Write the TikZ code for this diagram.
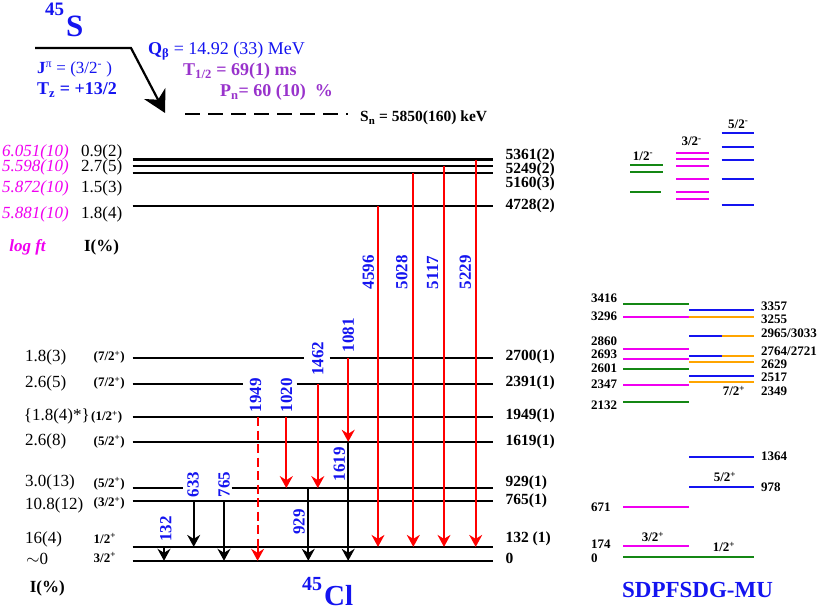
\documentclass[tikz,border=0pt]{standalone}
\usepackage{fontspec}
\setmainfont{Liberation Serif}
\usetikzlibrary{arrows.meta}
\definecolor{tblue}{RGB}{20,20,240}
\definecolor{tred}{RGB}{255,0,0}
\definecolor{tmag}{RGB}{240,0,240}
\definecolor{tpur}{RGB}{153,51,204}
\definecolor{tgreen}{RGB}{20,135,20}
\definecolor{torange}{RGB}{255,165,0}
\newcommand\fs[1]{\fontsize{#1}{#1}\selectfont}
\def\LA{159.6}\def\LB{166.4}\def\LC{173.1}\def\LD{206.3}
\def\LE{357.7}\def\LF{383.7}\def\LG{417.2}\def\LH{441.8}
\def\LI{488.1}\def\LJ{501}\def\LK{546.9}\def\LL{560.8}
\def\XL{132.5}\def\XR{493}
\tikzset{
  lev/.style={line width=2.2pt, black},
  gtip/.style={-{Stealth[length=12pt,width=13pt,inset=4pt]}},
  gr/.style={line width=1.8pt, tred, gtip},
  gb/.style={line width=1.8pt, black, gtip},
  glab/.style={rotate=90, text=tblue, font=\fs{17}\bfseries, inner sep=0pt},
  rlab/.style={anchor=west, font=\fs{15.5}\bfseries, inner sep=0pt},
  ival/.style={anchor=west, font=\fs{17}, inner sep=0pt},
  spin/.style={anchor=west, font=\fs{13}\bfseries, inner sep=0pt},
  lft/.style={anchor=west, font=\fs{17}\itshape, text=tmag, inner sep=0pt},
  th/.style={line width=2pt},
  thl/.style={font=\fs{13}\bfseries, inner sep=0pt},
  thw/.style={thl, anchor=west},
}
\begin{document}
\begin{tikzpicture}[x=1pt,y=-1pt]
\path[use as bounding box, fill=white] (0,0) rectangle (817,612);

% ---------- parent 45S ----------
\node[anchor=base west, inner sep=0pt, text=tblue, font=\fs{19}\bfseries] (pA) at (45,16) {45};
\node[anchor=base west, inner sep=0pt, text=tblue, font=\fs{31}\bfseries] (pS) at (66,37) {S};
\coordinate (pL) at (35,48);
\coordinate (pK) at (131,48);
\coordinate (pT) at (165,113);
\draw[line width=2.2pt, -{Stealth[length=22pt,width=24pt,inset=7pt]}] (pL) -- (pK) -- (pT);
\node[anchor=base west, inner sep=0pt, text=tblue, font=\fs{17}] (jpi) at (37,74)
  {\textbf{J}\textsuperscript{π} = (3/2\textsuperscript{-} )};
\node[anchor=base west, inner sep=0pt, text=tblue, font=\fs{18}\bfseries] (tz) at (37,95)
  {T\textsubscript{z} = +13/2};
\node[anchor=base west, inner sep=0pt, text=tblue, font=\fs{18}] (qb) at (148,55)
  {\textbf{Q}\textsubscript{\textbf{β}} = 14.92 (33) MeV};
\node[anchor=base west, inner sep=0pt, text=tpur, font=\fs{18}\bfseries] (th) at (183,76)
  {T\textsubscript{1/2} = 69(1) ms};
\node[anchor=base west, inner sep=0pt, text=tpur, font=\fs{18}\bfseries] (pn) at (220,96.5)
  {P\textsubscript{n}= 60 (10) ~\%};
\coordinate (snA) at (185,114);
\coordinate (snB) at (348,114);
\draw[line width=2.4pt, dash pattern=on 15pt off 8pt] (snA) -- (snB);
\node[anchor=base west, inner sep=0pt, font=\fs{15.5}\bfseries] (sn) at (360,122)
  {S\textsubscript{n} = 5850(160) keV};

% ---------- levels of 45Cl ----------
\draw[lev] (\XL,\LA) -- (\XR,\LA);
\draw[lev] (\XL,\LB) -- (\XR,\LB);
\draw[lev] (\XL,\LC) -- (\XR,\LC);
\draw[lev] (\XL,\LD) -- (\XR,\LD);
\draw[lev] (\XL,\LE) -- (304,\LE);  \draw[lev] (329.6,\LE) -- (\XR,\LE);
\draw[lev] (\XL,\LF) -- (243,\LF);  \draw[lev] (296.5,\LF) -- (\XR,\LF);
\draw[lev] (\XL,\LG) -- (\XR,\LG);
\draw[lev] (\XL,\LH) -- (\XR,\LH);
\draw[lev] (\XL,\LI) -- (182.6,\LI); \draw[lev] (231.6,\LI) -- (\XR,\LI);
\draw[lev] (\XL,\LJ) -- (\XR,\LJ);
\draw[lev] (\XL,\LK) -- (\XR,\LK);
\draw[lev] (\XL,\LL) -- (\XR,\LL);

% level energies
\node[rlab] (eA) at (505.4,156) {5361(2)};
\node[rlab] (eB) at (505.4,170) {5249(2)};
\node[rlab] (eC) at (505.4,184) {5160(3)};
\node[rlab] (eD) at (505.4,206) {4728(2)};
\node[rlab] (eE) at (505.4,357) {2700(1)};
\node[rlab] (eF) at (505.4,383) {2391(1)};
\node[rlab] (eG) at (505.4,416) {1949(1)};
\node[rlab] (eH) at (505.4,442) {1619(1)};
\node[rlab] (eI) at (505.4,482.5) {929(1)};
\node[rlab] (eJ) at (505.4,501) {765(1)};
\node[rlab] (eK) at (505.4,538.5) {132 (1)};
\node[rlab] (eL) at (505.4,558.5) {0};

% log ft and intensities (upper)
\node[lft] (fA) at (2,152) {6.051(10)};
\node[lft] (fB) at (2,167.5) {5.598(10)};
\node[lft] (fC) at (2,188) {5.872(10)};
\node[lft] (fD) at (2,214) {5.881(10)};
\node[anchor=center, inner sep=0pt, text=tmag, font=\fs{17}\bfseries\itshape] (flab) at (27.5,247.5) {log ft};
\node[ival] (iA) at (81,152) {0.9(2)};
\node[ival] (iB) at (81,167.5) {2.7(5)};
\node[ival] (iC) at (81,188) {1.5(3)};
\node[ival] (iD) at (81,214) {1.8(4)};
\node[anchor=center, inner sep=0pt, font=\fs{17}\bfseries] (ilab) at (101.5,247.5) {I(\%)};

% intensities (lower)
\node[ival] (iE) at (25,357) {1.8(3)};
\node[ival] (iF) at (25,383) {2.6(5)};
\node[ival] (iG) at (23.7,416.5) {\{1.8(4)*\}};
\node[ival] (iH) at (25,441.8) {2.6(8)};
\node[ival] (iI) at (25,482.5) {3.0(13)};
\node[ival] (iJ) at (25,505.7) {10.8(12)};
\node[ival] (iK) at (25,539.5) {16(4)};
\node[ival] (iL) at (26,558.7) {$\sim$0};
\node[anchor=center, inner sep=0pt, font=\fs{17}\bfseries] (ilab2) at (47.3,588.5) {I(\%)};

% spins
\node[spin] (sE) at (93.5,357) {(7/2\textsuperscript{+})};
\node[spin] (sF) at (93.5,383) {(7/2\textsuperscript{+})};
\node[spin] (sG) at (91,417) {(1/2\textsuperscript{+})};
\node[spin] (sH) at (93.5,441.8) {(5/2\textsuperscript{+})};
\node[spin] (sI) at (93.5,483.7) {(5/2\textsuperscript{+})};
\node[spin] (sJ) at (93.5,503) {(3/2\textsuperscript{+})};
\node[spin] (sK) at (93.5,538.5) {1/2\textsuperscript{+}};
\node[spin] (sL) at (93.5,557.5) {3/2\textsuperscript{+}};

% ---------- gamma transitions ----------
\draw[gr] (378,\LD) -- (378,\LK);
\draw[gr] (413.3,\LC) -- (413.3,\LK);
\draw[gr] (444,\LB) -- (444,\LK);
\draw[gr] (475.7,\LA) -- (475.7,\LK);
\node[glab] (g4596) at (368.3,272.5) {4596};
\node[glab] (g5028) at (401.7,272.5) {5028};
\node[glab] (g5117) at (432.5,272.5) {5117};
\node[glab] (g5229) at (465.3,272.5) {5229};

\draw[gr] (348.2,\LE) -- (348.2,\LH);
\node[glab] (g1081) at (348.2,335.5) {1081};
\draw[gr] (317.8,\LF) -- (317.8,\LI);
\node[glab] (g1462) at (317.8,359) {1462};
\draw[gr] (286.3,\LG) -- (286.3,\LI);
\node[glab] (g1020) at (286.5,395) {1020};
\draw[line width=1.8pt, tred, dash pattern=on 9pt off 4.5pt] (257.6,\LG) -- (257.6,\LL-12);
\draw[gr] (257.6,\LL-12.5) -- (257.6,\LL);
\node[glab] (g1949) at (255.5,395) {1949};

\draw[gb] (348.2,\LH) -- (348.2,\LL);
\node[glab] (g1619) at (339.3,464) {1619};
\draw[gb] (308.3,\LI) -- (308.3,\LL);
\node[glab] (g929) at (299,522) {929};
\draw[gb] (224,\LJ) -- (224,\LL);
\node[glab] (g765) at (224,484.4) {765};
\draw[gb] (193.7,\LJ) -- (193.7,\LK);
\node[glab] (g633) at (193,484.4) {633};
\draw[gb] (164,\LK) -- (164,\LL);
\node[glab] (g132) at (165.8,529) {132};

% daughter label
\node[anchor=base west, inner sep=0pt, text=tblue, font=\fs{20}\bfseries] (dA) at (302,590) {45};
\node[anchor=base west, inner sep=0pt, text=tblue, font=\fs{29}\bfseries] (dC) at (324,605.5) {Cl};

% ---------- shell model SDPFSDG-MU ----------
% negative parity
\node[thl] (n1) at (643,156) {1/2\textsuperscript{-}};
\node[thl] (n3) at (691.7,141.7) {3/2\textsuperscript{-}};
\node[thl] (n5) at (738.3,124) {5/2\textsuperscript{-}};
\draw[th, tgreen] (630,165.3) -- (663,165.3);
\draw[th, tgreen] (630,172.3) -- (663,172.3);
\draw[th, tgreen] (630,192) -- (661,192);
\foreach \y in {152.7,159.3,166,179,192,198.7}
  \draw[th, tmag] (676,\y) -- (709,\y);
\foreach \y in {133.3,146.7,159.7,179.3,205.3}
  \draw[th, tblue] (721.7,\y) -- (754.3,\y);

% positive parity, left column
\draw[th, tgreen] (623.3,303.7) -- (689,303.7);
\draw[th, tmag]   (623.3,316.7) -- (689,316.7);
\draw[th, tmag]   (623.3,349.3) -- (689,349.3);
\draw[th, tmag]   (623.3,359)   -- (689,359);
\draw[th, tgreen] (623.3,369)   -- (689,369);
\draw[th, tmag]   (623.3,385.3) -- (689,385.3);
\draw[th, tgreen] (623.3,401.7) -- (689,401.7);
\draw[th, tmag]   (623.3,506.7) -- (689,506.7);
\draw[th, tmag]   (623.3,545.7) -- (689,545.7);
\draw[th, tgreen] (623.3,557)   -- (754.3,557);
\node[thw] (tA) at (591,298) {3416};
\node[thw] (tB) at (591,316) {3296};
\node[thw] (tC) at (591,341.7) {2860};
\node[thw] (tD) at (591,354) {2693};
\node[thw] (tE) at (591,368) {2601};
\node[thw] (tF) at (591,384.3) {2347};
\node[thw] (tG) at (591,405) {2132};
\node[thw] (tH) at (591,507.3) {671};
\node[thw] (tI) at (591,544) {174};
\node[thw] (tJ) at (591,558.3) {0};

% positive parity, right column
\draw[th, tblue]   (689,310.3) -- (754.3,310.3);
\draw[th, torange] (689,316.7) -- (754.3,316.7);
\draw[th, tblue]   (689,336.3) -- (721.7,336.3);
\draw[th, torange] (721.7,336.3) -- (754.3,336.3);
\draw[th, tblue]   (689,356) -- (721.7,356);
\draw[th, torange] (721.7,356) -- (754.3,356);
\draw[th, torange] (689,362.3) -- (754.3,362.3);
\draw[th, tblue]   (689,375.7) -- (754.3,375.7);
\draw[th, torange] (689,382) -- (754.3,382);
\draw[th, tblue]   (689,457.3) -- (754.3,457.3);
\draw[th, tblue]   (689,486.7) -- (754.3,486.7);
\node[thw] (rA) at (761,306) {3357};
\node[thw] (rB) at (761,319) {3255};
\node[thw] (rC) at (761,333.3) {2965/3033};
\node[thw] (rD) at (761,351.7) {2764/2721};
\node[thw] (rE) at (761,364.3) {2629};
\node[thw] (rF) at (761,377.7) {2517};
\node[thw] (rG) at (761,391) {2349};
\node[thw] (rH) at (761,456.7) {1364};
\node[thw] (rI) at (761,487.3) {978};
\node[thl] (s72) at (734,391) {7/2\textsuperscript{+}};
\node[thl] (s52) at (725,476.7) {5/2\textsuperscript{+}};
\node[thl] (s32) at (653,537.3) {3/2\textsuperscript{+}};
\node[thl] (s12) at (724,546.7) {1/2\textsuperscript{+}};
\node[inner sep=0pt, text=tblue, font=\fs{23}\bfseries] (sm) at (697.5,590) {SDPFSDG-MU};
\end{tikzpicture}
\end{document}
